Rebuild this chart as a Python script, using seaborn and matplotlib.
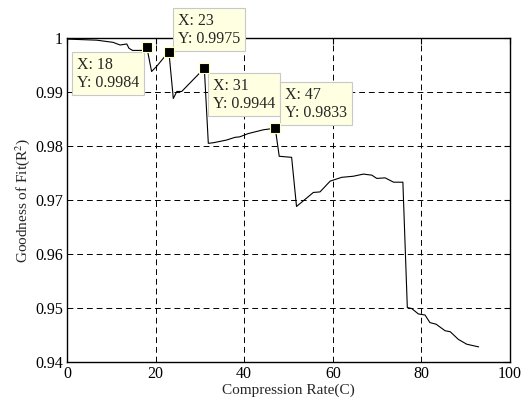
import matplotlib
matplotlib.use("Agg")
import matplotlib.pyplot as plt
import numpy as np
import pandas as pd
import seaborn as sns

# curve
rate = [0, 6.7, 10.4, 12, 13.5, 14, 14.8, 16, 17.4, 18,
        19.1, 20.2, 23,
        24, 24.8, 25.9, 31,
        31.9, 33, 36, 37.9, 39, 40.9, 44.3, 47,
        47.9, 50.7, 51.8, 53.7, 55.6, 57.1, 59.4, 62, 64.6, 66.9, 68.8, 69.9,
        71.8, 73.7, 75.8,
        76.8, 77.8, 79.3, 80.8, 81.9, 83.3, 85.3, 86.5, 88.3, 90.2, 92.9]
fit = [0.9998, 0.9996, 0.9992, 0.9987, 0.9989, 0.9981, 0.9977, 0.9977, 0.9977, 0.9984,
       0.9938, 0.9947, 0.9975,
       0.9888, 0.9901, 0.9901, 0.9944,
       0.9805, 0.9806, 0.9811, 0.9816, 0.9817, 0.9823, 0.9830, 0.9833,
       0.9781, 0.9779, 0.9688, 0.9701, 0.9714, 0.9715, 0.9735, 0.9742, 0.9744, 0.9748, 0.9746, 0.9740,
       0.9741, 0.9733, 0.9733,
       0.9501, 0.9499, 0.9489, 0.9487, 0.9473, 0.9470, 0.9458, 0.9456, 0.9442, 0.9433, 0.9428]

tip_x = [18, 23, 31, 47]
tip_y = [0.9984, 0.9975, 0.9944, 0.9833]
# text anchor (upper-left, data coords) of each data tip
tip_text = [(2.2, 0.99652), (25.0, 1.00467), (32.9, 0.99263), (49.2, 0.99096)]

x_ticks = [0, 20, 40, 60, 80, 100]
y_ticks = [0.94, 0.95, 0.96, 0.97, 0.98, 0.99, 1.0]
y_labels = ["0.94", "0.95", "0.96", "0.97", "0.98", "0.99", "1"]

sns.set_style("white")
plt.rcParams["font.family"] = ["Liberation Serif", "DejaVu Serif"]
plt.rcParams["mathtext.fontset"] = "stix"

fig = plt.figure(figsize=(5.27, 4.03), dpi=100)
ax = fig.add_axes([0.127, 0.1017, 0.841, 0.804])

df = pd.DataFrame({"rate": rate, "fit": fit})
sns.lineplot(data=df, x="rate", y="fit", ax=ax, color="black", linewidth=0.8,
             estimator=None, sort=False)

ax.set_xlim(0, 100)
ax.set_ylim(0.94, 1.0)
ax.set_xticks(x_ticks)
ax.set_yticks(y_ticks)
ax.set_yticklabels(y_labels)
ax.tick_params(direction="in", length=4, width=0.8, labelsize=11.5,
               top=True, right=True, colors="black", pad=3)
ax.grid(True, color="black", linestyle=(0, (6, 4)), linewidth=0.7)
for s in ax.spines.values():
    s.set_color("black")
    s.set_linewidth(1.0)

ax.set_xlabel("Compression Rate(C)", fontsize=11, labelpad=1)
ax.set_ylabel("Goodness of Fit(R$^2$)", fontsize=11, labelpad=2)

for (tx, ty), (bx, by) in zip(zip(tip_x, tip_y), tip_text):
    ax.text(bx, by, f"X: {tx}\nY: {ty}", fontsize=11.5, va="top", ha="left",
            linespacing=1.15, zorder=6, clip_on=False,
            bbox=dict(boxstyle="square,pad=0.3", facecolor="#ffffe1",
                      edgecolor="#c8c8c8", linewidth=0.8))
sns.scatterplot(x=tip_x, y=tip_y, ax=ax, marker="s", s=45, color="black",
                edgecolor="#ffffc0", linewidth=0.8, zorder=7, clip_on=False)

fig.savefig("out.png", dpi=100)
